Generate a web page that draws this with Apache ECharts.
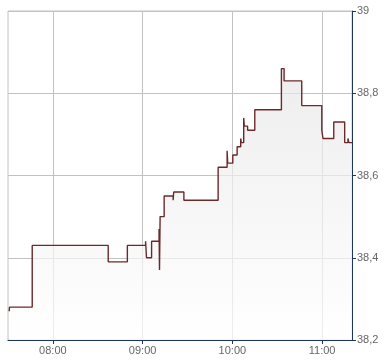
<!DOCTYPE html>
<html>
<head>
<meta charset="utf-8">
<script src="https://cdn.jsdelivr.net/npm/echarts@6/dist/echarts.min.js"></script>
<style>
html,body{margin:0;padding:0;background:#fff;}
#chart{width:390px;height:364px;}
</style>
</head>
<body>
<div id="chart"></div>
<script>
// time in minutes since midnight
const times = [450.8, 451.0, 466.2, 517.0, 529.8, 542.0, 542.6, 546.0, 551.0, 551.3, 551.7,
  554.4, 560.4, 560.8, 567.6, 590.5, 596.5, 596.9, 600.3, 603.2, 605.6, 606.0, 607.6, 608.0,
  610.2, 615.0, 632.8, 634.6, 646.4, 659.8, 660.6, 667.8, 675.1, 677.3, 677.9, 680.0];
const prices = [38.27, 38.28, 38.43, 38.39, 38.43, 38.44, 38.40, 38.44, 38.47, 38.37, 38.50,
  38.55, 38.54, 38.56, 38.54, 38.62, 38.66, 38.63, 38.65, 38.67, 38.69, 38.68, 38.74, 38.72,
  38.71, 38.76, 38.86, 38.83, 38.77, 38.71, 38.69, 38.73, 38.68, 38.69, 38.68, 38.68];
const xTicks = [480, 540, 600, 660];
const xMin = 450, xMax = 680;
const yMin = 38.2, yMax = 39, yStep = 0.2;

const pad = n => (n < 10 ? '0' : '') + n;
const fmtTime = v => pad(Math.floor(v / 60)) + ':' + pad(Math.round(v % 60));
const fmtPrice = v => String(Math.round(v * 10) / 10).replace('.', ',');

const chart = echarts.init(document.getElementById('chart'), null, {renderer: 'canvas'});
const navy = '#1d3563';
chart.setOption({
  animation: false,
  backgroundColor: '#ffffff',
  grid: {
    left: 8, top: 11, right: 38, bottom: 24,
    show: true, borderColor: '#c2c2c2', borderWidth: 1, backgroundColor: '#ffffff',
    containLabel: false, outerBoundsMode: 'none'
  },
  xAxis: {
    type: 'value', min: xMin, max: xMax,
    axisLine: {show: true, lineStyle: {color: navy, width: 1}},
    axisTick: {show: true, length: 4, customValues: xTicks, lineStyle: {color: navy}},
    axisLabel: {customValues: xTicks, formatter: fmtTime, color: '#666', fontFamily: 'Liberation Sans, Arial, sans-serif', fontSize: 11, margin: 5},
    splitLine: {show: true, lineStyle: {color: '#c2c2c2', width: 1}}
  },
  yAxis: {
    type: 'value', position: 'right', min: yMin, max: yMax, interval: yStep,
    axisLine: {show: true, lineStyle: {color: navy, width: 1}},
    axisTick: {show: true, length: 4, lineStyle: {color: navy}},
    axisLabel: {formatter: fmtPrice, color: '#666', fontFamily: 'Liberation Sans, Arial, sans-serif', fontSize: 11, margin: 5},
    splitLine: {show: true, lineStyle: {color: '#c2c2c2', width: 1}}
  },
  series: [{
    type: 'line', step: 'end', symbol: 'none',
    data: times.map((t, i) => [t, prices[i]]),
    lineStyle: {color: '#6b2a2a', width: 1.4},
    areaStyle: {
      origin: 'start',
      color: new echarts.graphic.LinearGradient(0, 0, 0, 1, [
        {offset: 0, color: '#e6e6e6'}, {offset: 1, color: '#ffffff'}
      ])
    }
  }]
});
</script>
</body>
</html>
